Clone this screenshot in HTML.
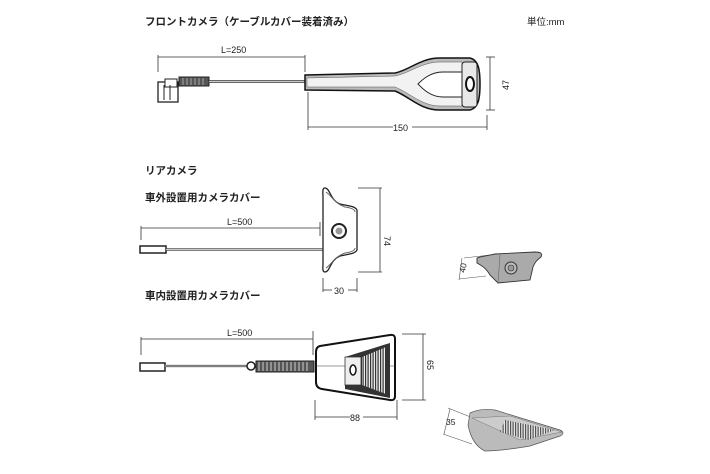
<!DOCTYPE html>
<html><head><meta charset="utf-8"><style>
html,body{margin:0;padding:0;background:#fff}
svg{display:block}
text{font-family:"Liberation Sans","Noto Sans CJK JP",sans-serif;fill:#222}
</style></head><body>
<svg width="710" height="474" viewBox="0 0 710 474" xmlns="http://www.w3.org/2000/svg">
<defs>
<pattern id="stripes" width="2.5" height="4" patternUnits="userSpaceOnUse"><rect width="2.5" height="4" fill="#eee"/><rect width="1.2" height="4" fill="#333"/></pattern>
</defs>
<g font-size="10.5" font-weight="bold">
<text x="145" y="25">フロントカメラ（ケーブルカバー装着済み）</text>
<text x="145" y="174">リアカメラ</text>
<text x="145" y="201">車外設置用カメラカバー</text>
<text x="145" y="299">車内設置用カメラカバー</text>
</g>
<text x="527" y="25" font-size="9.5">単位:mm</text>

<!-- FRONT CAMERA -->
<g stroke="#333" stroke-width="0.8" fill="none">
<line x1="158" y1="57" x2="305" y2="57"/>
<line x1="158" y1="55" x2="158" y2="72"/>
<line x1="305" y1="55" x2="305" y2="72"/>
<line x1="308" y1="127" x2="393" y2="127"/><line x1="412" y1="127" x2="487" y2="127"/>
<line x1="308" y1="92" x2="308" y2="130"/>
<line x1="487" y1="115" x2="487" y2="130"/>
<line x1="490" y1="57" x2="490" y2="110"/>
<line x1="486" y1="57" x2="495" y2="57"/><line x1="486" y1="110" x2="495" y2="110"/>
</g>
<text x="221" y="53" font-size="9">L=250</text>
<text x="393" y="131" font-size="9">150</text>
<text x="0" y="0" font-size="9" transform="translate(509,90) rotate(-90)">47</text>
<!-- connector -->
<rect x="158" y="82" width="20" height="20" fill="#fff" stroke="#222" stroke-width="1.3"/>
<rect x="165" y="79" width="12" height="8" fill="#fff" stroke="#222" stroke-width="1"/>
<line x1="164" y1="85" x2="164" y2="100" stroke="#222"/><line x1="170" y1="85" x2="170" y2="100" stroke="#222"/>
<rect x="179" y="77" width="30" height="9" fill="#555" stroke="#222"/>
<g stroke="#ddd" stroke-width="0.6"><line x1="183" y1="78" x2="183" y2="85"/><line x1="187" y1="78" x2="187" y2="85"/><line x1="191" y1="78" x2="191" y2="85"/><line x1="195" y1="78" x2="195" y2="85"/><line x1="199" y1="78" x2="199" y2="85"/><line x1="203" y1="78" x2="203" y2="85"/></g>
<line x1="209" y1="81.5" x2="306" y2="81.5" stroke="#333" stroke-width="2.5"/>
<line x1="209" y1="81.5" x2="306" y2="81.5" stroke="#fff" stroke-width="0.8"/>
<!-- handle + head -->
<path d="M305,75 L395,73 C410,70 420,58 440,58 L470,58 C478,60 480,68 480,84 C480,100 478,108 470,110 L440,110 C420,110 410,97 395,91 L305,90 Z" fill="#bbb" stroke="#111" stroke-width="1.5"/>
<path d="M307,78 L395,76 C410,73 422,62 440,62 L462,62 L462,72 L443,72 C430,72 422,80 418,84 C422,88 430,97 443,97 L462,97 L462,106 L440,106 C422,106 410,93 395,87 L307,87 Z" fill="#f2f2f2" stroke="#555" stroke-width="0.5"/>
<path d="M462,72 L443,72 C430,72 422,80 418,84 C422,88 430,97 443,97 L462,97 Z" fill="#fff" stroke="#222" stroke-width="1"/>
<rect x="462" y="62" width="15" height="45" rx="3" fill="#e8e8e8" stroke="#222" stroke-width="1"/>
<ellipse cx="470" cy="84" rx="4" ry="7" fill="#fff" stroke="#111" stroke-width="2"/>

<!-- EXTERIOR COVER -->
<g stroke="#333" stroke-width="0.8" fill="none">
<line x1="141" y1="228" x2="320" y2="228"/>
<line x1="141" y1="226" x2="141" y2="240"/>
<line x1="320" y1="222" x2="320" y2="236"/>
<line x1="358" y1="188" x2="382" y2="188"/><line x1="358" y1="272" x2="382" y2="272"/>
<line x1="380" y1="188" x2="380" y2="272"/>
<line x1="323" y1="278" x2="323" y2="292"/><line x1="357" y1="278" x2="357" y2="292"/>
<line x1="323" y1="290" x2="332" y2="290"/><line x1="348" y1="290" x2="357" y2="290"/>
</g>
<text x="227" y="225" font-size="9">L=500</text>
<text x="334" y="294" font-size="9">30</text>
<text x="0" y="0" font-size="9" transform="translate(384,236) rotate(90)">74</text>
<rect x="140" y="246" width="26" height="7" fill="#fff" stroke="#222" stroke-width="1.5"/>
<line x1="166" y1="249.5" x2="325" y2="249.5" stroke="#333" stroke-width="2.2"/>
<line x1="166" y1="249.5" x2="325" y2="249.5" stroke="#fff" stroke-width="0.7"/>
<path d="M325,188 C330,188 330,200 340,204 C348,206 355,206 357,210 L357,250 C355,254 348,254 340,256 C330,260 330,272 325,272 C322,272 323,268 323,262 L323,198 C323,192 322,188 325,188 Z" fill="#fff" stroke="#222" stroke-width="1.3"/>
<path d="M326,192 C332,196 334,203 345,207 C352,208 355,210 355,212" fill="none" stroke="#666"/>
<path d="M326,268 C332,264 334,257 345,253 C352,252 355,250 355,248" fill="none" stroke="#666"/>
<circle cx="339" cy="231" r="7" fill="#fff" stroke="#222" stroke-width="2"/>
<circle cx="339" cy="231" r="3.5" fill="#999"/>
<!-- iso small -->
<g stroke="#555" stroke-width="0.6" fill="none"><line x1="464" y1="258" x2="490" y2="255"/><line x1="459" y1="279" x2="486" y2="276"/><line x1="462" y1="258" x2="459" y2="280"/></g>
<text x="0" y="0" font-size="8.5" transform="translate(465,273) rotate(-80)">40</text>
<path d="M477,258 C482,256 486,256 495,254 L535,252 C540,252 543,253 541,257 C537,260 535,262 533,267 L530,280 L498,283 L490,275 C486,268 482,266 477,263 Z" fill="#aaa" stroke="#333" stroke-width="0.9"/>
<path d="M500,255 L498,283" stroke="#666" stroke-width="0.6"/>
<circle cx="511" cy="268" r="6" fill="#bbb" stroke="#333"/>
<circle cx="511" cy="268" r="3" fill="#999" stroke="#333" stroke-width="0.6"/>

<!-- INTERIOR COVER -->
<g stroke="#333" stroke-width="0.8" fill="none">
<line x1="141" y1="339" x2="313" y2="339"/>
<line x1="141" y1="337" x2="141" y2="355"/>
<line x1="313" y1="331" x2="313" y2="355"/>
<line x1="402" y1="334" x2="426" y2="334"/><line x1="402" y1="400" x2="426" y2="400"/>
<line x1="423" y1="334" x2="423" y2="400"/>
<line x1="315" y1="400" x2="315" y2="420"/><line x1="397" y1="400" x2="397" y2="420"/>
<line x1="315" y1="417" x2="350" y2="417"/><line x1="363" y1="417" x2="397" y2="417"/>
</g>
<text x="227" y="336" font-size="9">L=500</text>
<text x="350" y="421" font-size="9">88</text>
<text x="0" y="0" font-size="9" transform="translate(427,360) rotate(90)">65</text>
<rect x="140" y="363" width="25" height="8" fill="#fff" stroke="#222" stroke-width="1.5"/>
<line x1="165" y1="366" x2="248" y2="366" stroke="#333" stroke-width="2.2"/>
<line x1="165" y1="366" x2="248" y2="366" stroke="#fff" stroke-width="0.7"/>
<circle cx="251" cy="366" r="4" fill="#fff" stroke="#222" stroke-width="1.5"/>
<rect x="256" y="361" width="58" height="11" fill="#555" stroke="#222"/>
<g stroke="#eee" stroke-width="0.8">
<line x1="259" y1="362" x2="259" y2="371"/><line x1="263" y1="362" x2="263" y2="371"/><line x1="267" y1="362" x2="267" y2="371"/><line x1="271" y1="362" x2="271" y2="371"/><line x1="275" y1="362" x2="275" y2="371"/><line x1="279" y1="362" x2="279" y2="371"/><line x1="283" y1="362" x2="283" y2="371"/><line x1="287" y1="362" x2="287" y2="371"/><line x1="291" y1="362" x2="291" y2="371"/><line x1="295" y1="362" x2="295" y2="371"/><line x1="299" y1="362" x2="299" y2="371"/><line x1="303" y1="362" x2="303" y2="371"/><line x1="307" y1="362" x2="307" y2="371"/></g>
<path d="M320,346 L390,335 Q395,334 395,339 L395,396 Q395,401 390,400 L322,389 Q316,388 316,382 L316,352 Q316,347 320,346 Z" fill="#fff" stroke="#111" stroke-width="2"/>
<line x1="316" y1="366" x2="395" y2="366" stroke="#333" stroke-width="0.6"/>
<path d="M345,357 L390,343 L390,398 L345,389 Z" fill="#333"/>
<path d="M362,357 L386,347 L386,394 L362,385 Z" fill="url(#stripes)"/>
<rect x="345" y="357" width="16" height="28" fill="#eee" stroke="#333" stroke-width="0.8"/>
<ellipse cx="353" cy="370" rx="3" ry="5" fill="#fff" stroke="#111" stroke-width="1.5"/>
<!-- iso bottom -->
<g stroke="#555" stroke-width="0.6" fill="none"><line x1="448" y1="408" x2="478" y2="420"/><line x1="443" y1="434" x2="472" y2="444"/><line x1="450" y1="409" x2="444" y2="434"/></g>
<text x="0" y="0" font-size="8.5" transform="translate(446,425)">35</text>
<path d="M470,413 Q480,408 495,410 L560,430 Q566,433 560,436 L530,446 Q500,451 485,451 Q472,445 468,425 Z" fill="#bbb" stroke="#555" stroke-width="0.7"/>
<path d="M472,418 L520,440 L562,432 L510,416 Z" fill="#ccc" stroke="#777" stroke-width="0.5"/>
<path d="M505,420 L555,430 L528,440 L500,432 Z" fill="url(#stripes)" opacity="0.8"/>
</svg>
</body></html>
